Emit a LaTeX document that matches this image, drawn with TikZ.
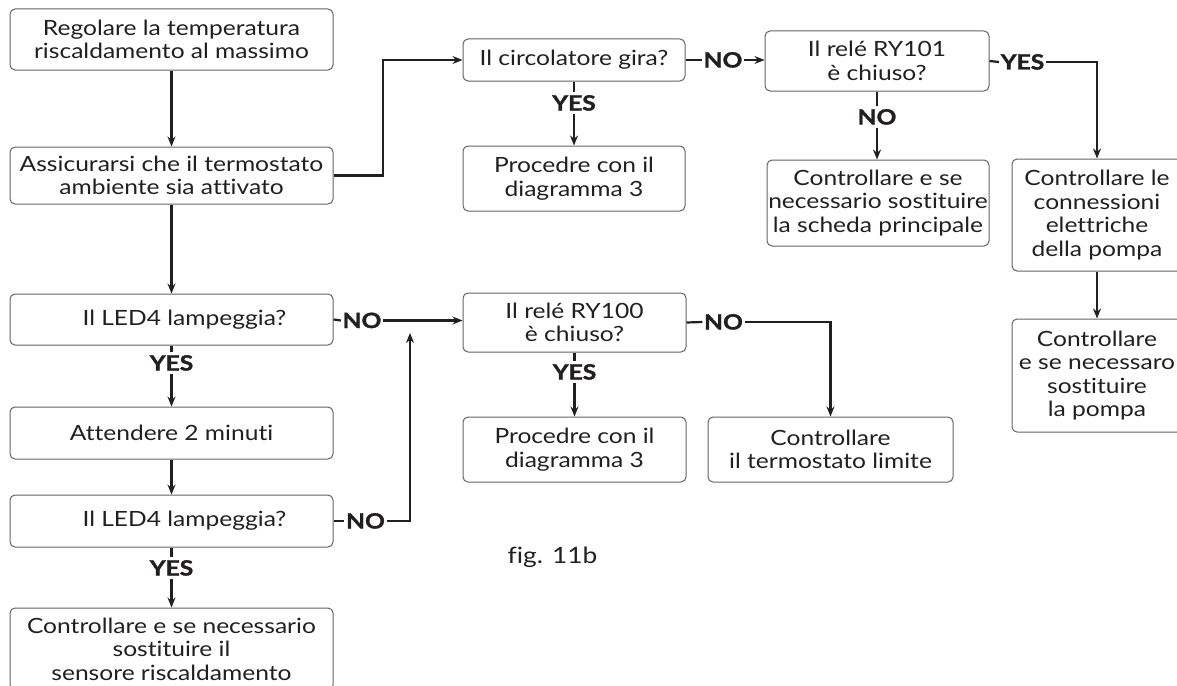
\documentclass[tikz,border=0pt]{standalone}
\usepackage{fontspec}
\setmainfont{Lato}[Ligatures={NoCommon}, FakeStretch=1.17, BoldFeatures={FakeBold=1.5}]
\usetikzlibrary{arrows.meta}
\definecolor{ink}{HTML}{231F20}
\begin{document}
\begin{tikzpicture}[x=1pt,y=-1pt,
 box/.style={draw=ink!70, line width=1pt, rounded corners=5pt, align=center, inner sep=0pt, font=\fontsize{21}{23.5}\selectfont, text=ink},
 lbl/.style={font=\fontsize{21}{23}\selectfont\bfseries, text=ink, inner xsep=1.5pt, inner ysep=3pt, text height=15pt, text depth=0pt},
 conn/.style={draw=ink, line width=2.2pt},
 arr/.style={conn, -{Stealth[length=10pt,width=8pt]}}]
\clip (0,0) rectangle (1177,685);
\useasboundingbox (0,0) rectangle (1177,685);
% boxes
\node[box, minimum width=323pt, minimum height=61pt] (A) at (171.5,39.5) {Regolare la temperatura\\riscaldamento al massimo};
\node[box, minimum width=323pt, minimum height=57pt] (B) at (171.5,175.5) {Assicurarsi che il termostato\\ambiente sia attivato};
\node[box, minimum width=222pt, minimum height=42pt] (C) at (574,60) {Il circolatore gira?};
\node[box, minimum width=222pt, minimum height=65pt] (D) at (574,178.5) {Procedre con il\\diagramma 3};
\node[box, minimum width=224pt, minimum height=60pt] (E) at (877,61) {Il relé RY101\\è chiuso?};
\node[box, minimum width=222pt, minimum height=86pt] (G) at (878,203) {Controllare e se\\necessario sostituire\\la scheda principale};
\node[box, minimum width=170pt, minimum height=112pt] (F) at (1097,215) {Controllare le\\connessioni\\elettriche\\della pompa};
\node[box, minimum width=170pt, minimum height=113pt] (H) at (1097,375.5) {Controllare\\e se necessaro\\sostituire\\la pompa};
\node[box, minimum width=323pt, minimum height=51pt] (I) at (171.5,319.5) {\hspace*{26pt}Il LED4 lampeggia?};
\node[box, minimum width=323pt, minimum height=52pt] (J) at (171.5,433) {Attendere 2 minuti};
\node[box, minimum width=323pt, minimum height=52pt] (K) at (171.5,521) {\hspace*{26pt}Il LED4 lampeggia?};
\node[box, minimum width=323pt, minimum height=82pt] (L) at (171.5,649) {Controllare e se necessario\\sostituire il\\sensore riscaldamento};
\node[box, minimum width=223pt, minimum height=59pt] (M) at (574.5,322.5) {Il relé RY100\\è chiuso?};
\node[box, minimum width=223pt, minimum height=65pt] (N) at (574.5,449.5) {Procedre con il\\diagramma 3};
\node[box, minimum width=245pt, minimum height=65pt] (O) at (830.5,449.5) {Controllare\\il termostato limite};
% labels
\node[lbl] (noC) at (723,60) {NO};
\node[lbl] (yesC) at (574,103) {YES};
\node[lbl] (yesE) at (1022.5,62) {YES};
\node[lbl] (noE) at (877,117) {NO};
\node[lbl] (noI) at (362,320.5) {NO};
\node[lbl] (yesI) at (171.5,363) {YES};
\node[lbl] (yesK) at (171.5,568) {YES};
\node[lbl] (noK) at (365.5,521) {NO};
\node[lbl] (yesM) at (574.5,372) {YES};
\node[lbl] (noM) at (723.5,322) {NO};
\node[font=\fontsize{22.5}{25}\selectfont, text=ink, anchor=base] (fig) at (552.5,563) {fig. 11b};
\coordinate (bc) at (383,0);
\coordinate (loopTip) at (410,333);
% connectors
\draw[arr] (A.south) -- (B.north);
\draw[arr] (B.east) -- (B.east -| bc) |- (C.west);
\draw[conn] (C.east) -- (noC.west);
\draw[arr] (noC.east) -- (noC.east -| E.west);
\draw[conn] (C.south) -- (yesC.north);
\draw[arr] (yesC.south) -- (D.north);
\draw[conn] (E.east) -- (yesE.west);
\draw[arr] (yesE.east) -| (F.north);
\draw[conn] (E.south) -- (noE.north);
\draw[arr] (noE.south) -- (noE.south |- G.north);
\draw[arr] (F.south) -- (H.north);
\draw[arr] (B.south) -- (I.north);
\draw[conn] (I.south) -- (yesI.north);
\draw[arr] (yesI.south) -- (J.north);
\draw[arr] (J.south) -- (K.north);
\draw[conn] (K.south) -- (yesK.north);
\draw[arr] (yesK.south) -- (L.north);
\draw[conn] (I.east) -- (noI.west);
\draw[arr] (noI.east) -- (noI.east -| M.west);
\draw[conn] (K.east) -- (noK.west);
\draw[arr] (noK.east) -- (noK.east -| loopTip) -- (loopTip);
\draw[conn] (M.east) -- (noM.west);
\draw[arr] (noM.east) -| (O.north);
\draw[conn] (M.south) -- (yesM.north);
\draw[arr] (yesM.south) -- (N.north);
\end{tikzpicture}
\end{document}
